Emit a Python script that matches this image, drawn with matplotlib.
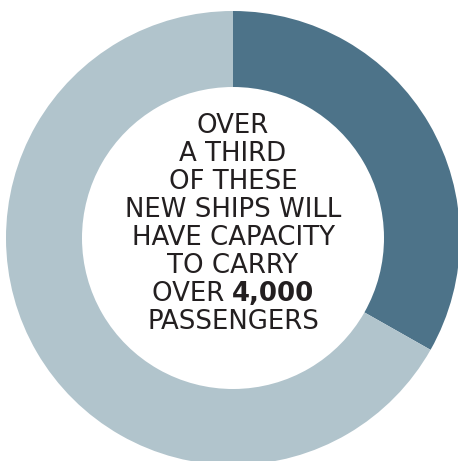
import matplotlib
matplotlib.use("Agg")
import matplotlib.pyplot as plt

# share of new ships (percent): over 4,000 passengers vs the rest
labels = ["Over 4,000 passengers", "Other"]
shares = [33.2, 66.8]
colors = ["#4d7389", "#b1c4cc"]

lines = ["OVER", "A THIRD", "OF THESE", "NEW SHIPS WILL",
         "HAVE CAPACITY", "TO CARRY", None, "PASSENGERS"]
bold_line = ("OVER ", "4,000")

txt_color = "#231f20"
font = "DejaVu Sans"
fsize = 18.7

fig = plt.figure(figsize=(4.58, 4.61), dpi=100)
ax = fig.add_axes([0, 0, 1, 1])

ax.pie(shares, colors=colors, radius=227, startangle=90, counterclock=False,
       wedgeprops=dict(width=76, linewidth=0))
# pie resets the limits, so set them afterwards (pixel-like units)
ax.set_xlim(-233, 225)
ax.set_ylim(-223, 238)
ax.set_aspect("equal")
ax.axis("off")

# text, one line at a time (baselines every 28 px)
y0 = 238 - 133
for i, ln in enumerate(lines):
    y = y0 - 28 * i
    if ln is None:
        continue
    ax.text(0, y, ln, ha="center", va="baseline", fontsize=fsize,
            family=font, color=txt_color)

# mixed-weight line
y = y0 - 28 * 6
fig.canvas.draw()
r = fig.canvas.get_renderer()
t1 = ax.text(0, y, bold_line[0], ha="left", va="baseline", fontsize=fsize,
             family=font, color=txt_color)
t2 = ax.text(0, y, bold_line[1], ha="left", va="baseline", fontsize=fsize,
             family=font, fontweight="bold", color=txt_color)
w1 = t1.get_window_extent(r).width
w2 = t2.get_window_extent(r).width
x1 = -(w1 + w2) / 2
t1.set_x(x1)
t2.set_x(x1 + w1)

fig.savefig("out.png", dpi=100)
